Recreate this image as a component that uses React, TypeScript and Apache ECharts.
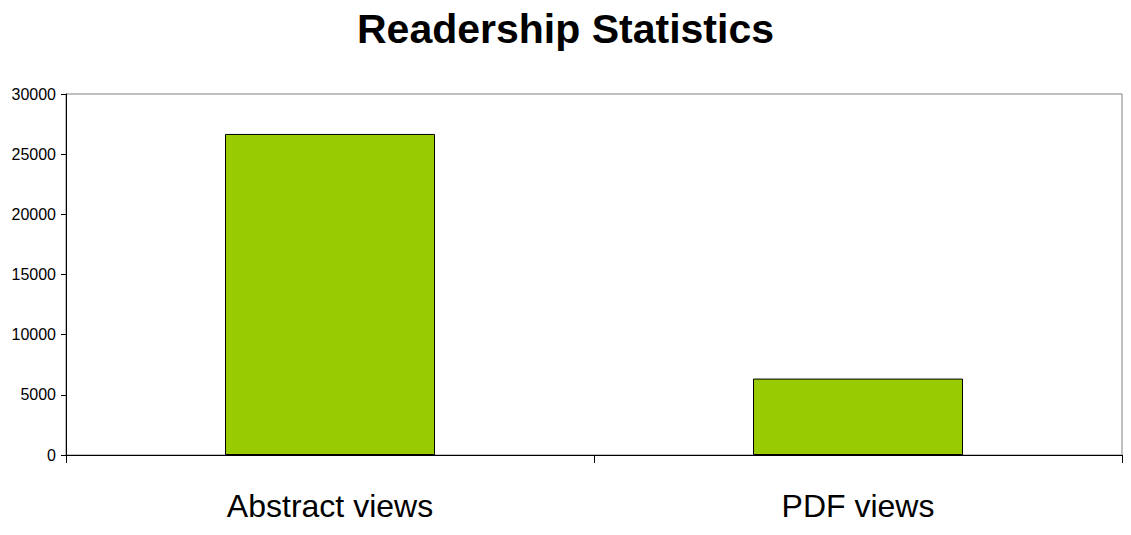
import React, { useEffect, useRef } from "react";
import * as echarts from "echarts";

const categories = ["Abstract views", "PDF views"];
const values = [26680, 6350];
const yMin = 0;
const yMax = 30000;
const yInterval = 5000;
const titleText = "Readership Statistics";

export default function App() {
  const ref = useRef<HTMLDivElement>(null);
  useEffect(() => {
    document.body.style.margin = "0";
    const chart = echarts.init(ref.current!, null, { renderer: "svg" });
    chart.setOption({
      animation: false,
      backgroundColor: "#ffffff",
      title: {
        text: titleText,
        left: "center",
        top: 3,
        textStyle: {
          fontFamily: "Liberation Sans",
          fontWeight: "bold",
          fontSize: 41,
          color: "#000",
        },
      },
      grid: {
        left: 66,
        top: 94,
        right: 9,
        bottom: 80,
        show: true,
        borderColor: "#808080",
        borderWidth: 1,
        backgroundColor: "transparent",
      },
      xAxis: {
        type: "category",
        data: categories,
        boundaryGap: true,
        axisLine: { show: true, lineStyle: { color: "#000", width: 1 } },
        axisTick: { show: true, length: 8, lineStyle: { color: "#000" }, alignWithLabel: false },
        axisLabel: {
          fontFamily: "Liberation Sans",
          fontSize: 32,
          color: "#000",
          margin: 35,
        },
        splitLine: { show: false },
      },
      yAxis: {
        type: "value",
        min: yMin,
        max: yMax,
        interval: yInterval,
        axisLine: { show: true, lineStyle: { color: "#000", width: 1 } },
        axisTick: { show: true, length: 5, lineStyle: { color: "#000" } },
        axisLabel: {
          fontFamily: "Liberation Sans",
          fontSize: 16,
          color: "#000",
          margin: 10,
          formatter: (v: number) => String(v),
        },
        splitLine: { show: false },
      },
      series: [
        {
          type: "bar",
          data: values,
          barWidth: 210,
          itemStyle: {
            color: "#99CC00",
            borderColor: "#000",
            borderWidth: 1,
          },
        },
      ],
    });
    return () => chart.dispose();
  }, []);
  return (
    <div
      ref={ref}
      style={{ position: "absolute", left: 0, top: 0, width: 1131, height: 535 }}
    />
  );
}
